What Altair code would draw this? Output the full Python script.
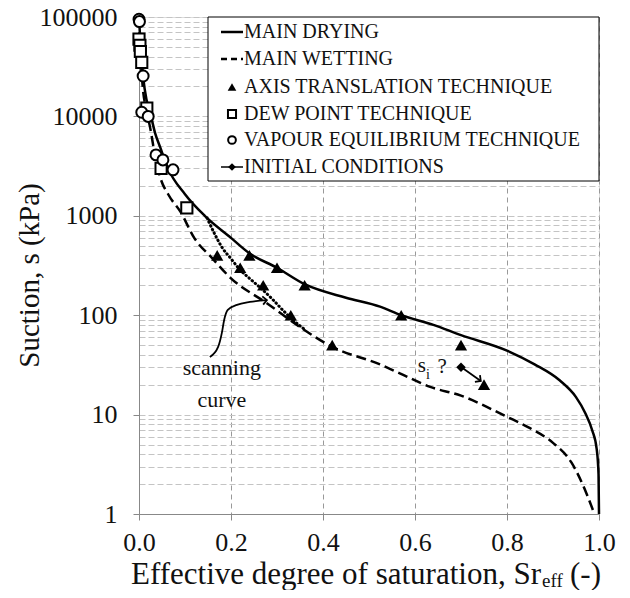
import altair as alt
import pandas as pd

FONT = "'Liberation Serif', 'Times New Roman', Times, 'DejaVu Serif', serif"

# ---------------- data ----------------
# Main drying curve (Sr_eff, suction kPa)
dry_sr = [0.0, 0.003, 0.009, 0.016, 0.024, 0.035, 0.046, 0.063, 0.10, 0.143, 0.20, 0.24,
          0.30, 0.36, 0.45, 0.524, 0.57, 0.64, 0.70, 0.80, 0.86, 0.915, 0.95, 0.97,
          0.985, 0.995, 0.999, 1.0]
dry_s = [100000, 55000, 25000, 15000, 11000, 6800, 4900, 3000, 1650, 1000, 600, 420,
         300, 205, 150, 122, 100, 80, 63, 44, 32, 22, 15, 10.4,
         7, 4.5, 2.5, 1]

# Main wetting curve
wet_sr = [0.0, 0.003, 0.008, 0.015, 0.024, 0.035, 0.046, 0.065, 0.09, 0.12, 0.159, 0.20,
          0.278, 0.35, 0.42, 0.524, 0.567, 0.633, 0.70, 0.80, 0.85, 0.90, 0.94, 0.973, 0.99]
wet_s = [100000, 45000, 20000, 12000, 7800, 4000, 2450, 1600, 1100, 600, 375, 235,
         132, 76, 48, 32, 26, 19, 15.5, 9.5, 7.3, 5.2, 3.3, 1.6, 1]

# Scanning curve (dotted)
scan_sr = [0.148, 0.165, 0.18, 0.20, 0.22, 0.24, 0.263, 0.29, 0.313, 0.343, 0.36]
scan_s = [950, 650, 485, 370, 285, 235, 190, 145, 112, 83, 72]

# Axis translation technique (triangles)
att_sr = [0.17, 0.24, 0.22, 0.30, 0.27, 0.36, 0.33, 0.57, 0.42, 0.70, 0.75]
att_s = [400, 400, 300, 300, 200, 200, 100, 100, 50, 50, 20]

# Dew point technique (squares)
dew_sr = [0.000, 0.002, 0.003, 0.006, 0.017, 0.048, 0.104]
dew_s = [60000, 52000, 45000, 35000, 12100, 3000, 1200]

# Vapour equilibrium technique (circles)
vap_sr = [0.0, 0.001, 0.009, 0.006, 0.020, 0.037, 0.052, 0.074]
vap_s = [95000, 90000, 25500, 11000, 10000, 4100, 3650, 2900]

# Initial conditions (diamond) and its arrow toward the measured point
init_sr = [0.70]
init_s = [30]
init_arrow_sr = [0.704, 0.743]
init_arrow_s = [29.3, 21.8]

# "scanning curve" annotation arrow
ann_sr = [0.154, 0.172, 0.180, 0.185, 0.193, 0.213, 0.241, 0.278]
ann_s = [38, 48, 66, 89, 113, 127, 136, 142]

legend_labels = ["MAIN DRYING", "MAIN WETTING", "AXIS TRANSLATION TECHNIQUE",
                 "DEW POINT TECHNIQUE", "VAPOUR EQUILIBRIUM TECHNIQUE", "INITIAL CONDITIONS"]

x_ticks = [0.0, 0.2, 0.4, 0.6, 0.8, 1.0]
y_major = [1, 10, 100, 1000, 10000, 100000]
y_grid = [m * 10 ** k for k in range(5) for m in range(1, 10)] + [100000]


def frame(sr, s):
    return pd.DataFrame({"sr": sr, "s": s, "i": list(range(len(sr)))})


# ---------------- scales / axes ----------------
xs = alt.Scale(domain=[0, 1], nice=False, zero=False)
ys = alt.Scale(type="log", domain=[1, 100000], nice=False)

major_test = "indexof([1,10,100,1000,10000,100000], datum.value) >= 0"

x_axis = alt.Axis(values=x_ticks, format=".1f", title=None,
                  labelFont=FONT, labelFontSize=26, labelColor="#111",
                  labelPadding=9, tickSize=6, tickColor="#888",
                  domainColor="#888", grid=True, gridColor="#999",
                  gridDash=[5, 4], gridWidth=1, labelFlush=False)
y_axis = alt.Axis(values=y_grid, title="Suction, s (kPa)",
                  titleFont=FONT, titleFontSize=29, titleFontWeight="normal",
                  titleColor="#111", titleX=-110, titleY=258, titleAngle=270,
                  titleAlign="center", titleBaseline="middle",
                  labelExpr=major_test + " ? datum.value : ''",
                  labelFont=FONT, labelFontSize=26, labelColor="#111",
                  labelPadding=16, labelOverlap=False, tickSize=6, tickColor="#888",
                  tickOpacity={"condition": {"test": major_test, "value": 1}, "value": 0},
                  domainColor="#888", grid=True, gridColor="#c4c4c4",
                  gridDash=[6, 3], gridWidth=1)

X = alt.X("sr:Q", scale=xs, axis=x_axis)
Y = alt.Y("s:Q", scale=ys, axis=y_axis)
O = alt.Order("i:Q")

dry = alt.Chart(frame(dry_sr, dry_s)).mark_line(
    color="black", strokeWidth=2.5, interpolate="monotone").encode(x=X, y=Y, order=O)
wet = alt.Chart(frame(wet_sr, wet_s)).mark_line(
    color="black", strokeWidth=2.5, strokeDash=[10, 5], interpolate="monotone").encode(x=X, y=Y, order=O)
scan = alt.Chart(frame(scan_sr, scan_s)).mark_line(
    color="black", strokeWidth=3, strokeDash=[0.5, 3.6], strokeCap="round",
    interpolate="monotone").encode(x=X, y=Y, order=O)

ann = alt.Chart(frame(ann_sr, ann_s)).mark_line(
    color="black", strokeWidth=1.8, interpolate="monotone").encode(x=X, y=Y, order=O)
ann_head = alt.Chart(frame(ann_sr[-1:], ann_s[-1:])).mark_point(
    shape="M-1,-1L0,0L-1,1", filled=False, color="black", strokeWidth=1.8,
    size=70, angle=354, opacity=1).encode(x=X, y=Y)

init_line = alt.Chart(frame(init_arrow_sr, init_arrow_s)).mark_line(
    color="black", strokeWidth=1.8).encode(x=X, y=Y, order=O)
init_head = alt.Chart(frame(init_arrow_sr[-1:], init_arrow_s[-1:])).mark_point(
    shape="M-1,-1L0,0L-1,1", filled=False, color="black", strokeWidth=1.8,
    size=70, angle=37, opacity=1).encode(x=X, y=Y)

tri = alt.Chart(frame(att_sr, att_s)).mark_point(
    shape="triangle-up", filled=True, color="black", size=150, opacity=1).encode(x=X, y=Y)
sq = alt.Chart(frame(dew_sr, dew_s)).mark_point(
    shape="square", filled=True, fill="white", stroke="black", strokeWidth=2,
    size=125, opacity=1).encode(x=X, y=Y)
circ = alt.Chart(frame(vap_sr, vap_s)).mark_point(
    shape="circle", filled=True, fill="white", stroke="black", strokeWidth=2,
    size=120, opacity=1).encode(x=X, y=Y)
dia = alt.Chart(frame(init_sr, init_s)).mark_point(
    shape="diamond", filled=True, color="black", size=90, opacity=1).encode(x=X, y=Y)

# annotation texts (data coordinates)
ann_txt = pd.DataFrame({"sr": [0.18, 0.18], "s": [29.4, 14.0], "t": ["scanning", "curve"]})
scan_label = alt.Chart(ann_txt).mark_text(
    font=FONT, fontSize=22, color="#111", align="center", baseline="middle").encode(
    x=alt.X("sr:Q", scale=xs), y=alt.Y("s:Q", scale=ys), text="t:N")

si_txt = pd.DataFrame({"sr": [0.606, 0.649], "s": [26.8, 26.2], "t": ["s", "?"]})
si_label = alt.Chart(si_txt).mark_text(
    font=FONT, fontSize=21, color="#111", align="left", baseline="alphabetic").encode(
    x=alt.X("sr:Q", scale=xs), y=alt.Y("s:Q", scale=ys), text="t:N")
sub_txt = pd.DataFrame({"sr": [0.624], "s": [22.8], "t": ["i"]})
sub_label = alt.Chart(sub_txt).mark_text(
    font=FONT, fontSize=14, color="#111", align="left", baseline="alphabetic").encode(
    x=alt.X("sr:Q", scale=xs), y=alt.Y("s:Q", scale=ys), text="t:N")

# ---------------- legend (pixel layout) ----------------
one = pd.DataFrame({"k": [0]})
row_y = [15, 42, 70, 97, 123, 150]
legend = [alt.Chart(one).mark_rect(fill="white", stroke="black", strokeWidth=1).encode(
    x=alt.value(69), x2=alt.value(460), y=alt.value(0), y2=alt.value(164))]
legend.append(alt.Chart(one).mark_rule(color="black", strokeWidth=2.5).encode(
    x=alt.value(82), x2=alt.value(104), y=alt.value(row_y[0])))
legend.append(alt.Chart(one).mark_rule(color="black", strokeWidth=2.5, strokeDash=[6, 4]).encode(
    x=alt.value(82), x2=alt.value(104), y=alt.value(row_y[1])))
legend.append(alt.Chart(one).mark_point(shape="triangle-up", filled=True, color="black",
                                        size=75, opacity=1).encode(x=alt.value(93), y=alt.value(row_y[2])))
legend.append(alt.Chart(one).mark_point(shape="square", filled=True, fill="white", stroke="black",
                                        strokeWidth=2, size=65, opacity=1).encode(x=alt.value(93), y=alt.value(row_y[3])))
legend.append(alt.Chart(one).mark_point(shape="circle", filled=True, fill="white", stroke="black",
                                        strokeWidth=2, size=60, opacity=1).encode(x=alt.value(93), y=alt.value(row_y[4])))
legend.append(alt.Chart(one).mark_rule(color="black", strokeWidth=1.5).encode(
    x=alt.value(82), x2=alt.value(104), y=alt.value(row_y[5])))
legend.append(alt.Chart(one).mark_point(shape="diamond", filled=True, color="black",
                                        size=60, opacity=1).encode(x=alt.value(93), y=alt.value(row_y[5])))
for lab, yy in zip(legend_labels, row_y):
    legend.append(alt.Chart(one).mark_text(text=lab, font=FONT, fontSize=20, color="#111",
                                           align="left", baseline="middle").encode(
        x=alt.value(105), y=alt.value(yy)))

# ---------------- x title with subscript ----------------
xt = [
    alt.Chart(one).mark_text(text="Effective  degree of saturation,  Sr", font=FONT, fontSize=31,
                             color="#111", align="right", baseline="alphabetic").encode(
        x=alt.value(402), y=alt.value(567)),
    alt.Chart(one).mark_text(text="eff", font=FONT, fontSize=19, color="#111",
                             align="left", baseline="alphabetic").encode(
        x=alt.value(403), y=alt.value(570)),
    alt.Chart(one).mark_text(text="(-)", font=FONT, fontSize=31, color="#111",
                             align="left", baseline="alphabetic").encode(
        x=alt.value(431), y=alt.value(567)),
]

chart = alt.layer(dry, wet, scan, ann, ann_head, init_line, init_head,
                  tri, sq, circ, dia, scan_label, si_label, sub_label,
                  *legend, *xt).properties(
    width=460, height=497,
    autosize=alt.AutoSizeParams(type="none"),
    padding={"left": 131, "top": 9, "right": 23, "bottom": 76},
).configure_view(stroke="#888", strokeWidth=1).configure(background="white")

chart.save("out.html", embed_options={"renderer": "svg", "actions": False})
